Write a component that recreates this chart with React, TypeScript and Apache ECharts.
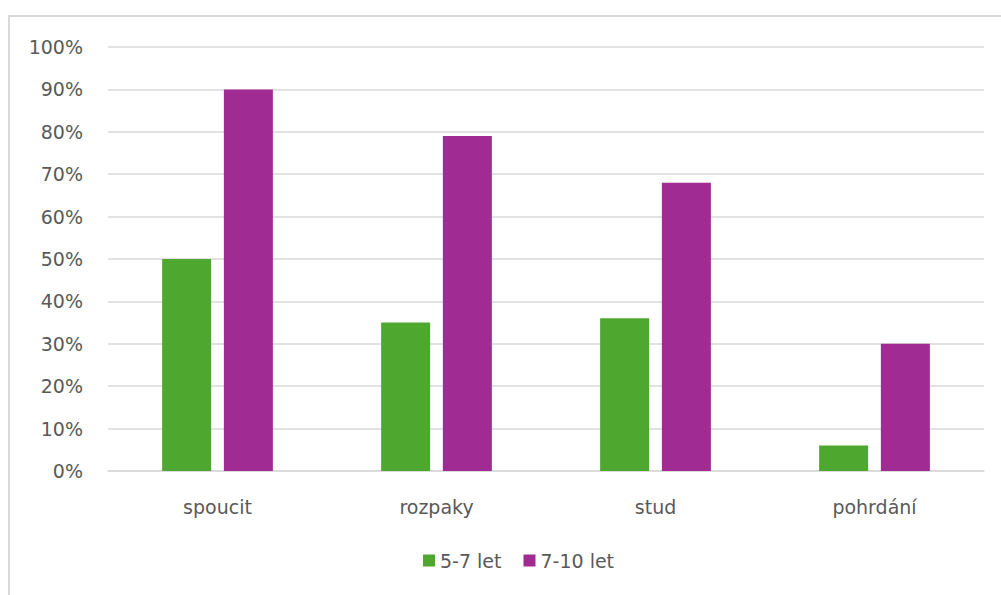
import React, { useEffect, useRef } from "react";
import * as echarts from "echarts";

const categories = ["spoucit", "rozpaky", "stud", "pohrdání"];
const series57 = [50, 35, 36, 6];
const series710 = [90, 79, 68, 30];
const seriesNames = ["5-7 let", "7-10 let"];
const colors = ["#4EA72E", "#A02B93"];

const FONT = "DejaVu Sans";
const TEXT = "#595959";
const GRID = "#d9d9d9";

export default function App() {
  const ref = useRef<HTMLDivElement>(null);
  useEffect(() => {
    if (!ref.current) return;
    const chart = echarts.init(ref.current, undefined, { renderer: "svg" });
    chart.setOption({
      animation: false,
      backgroundColor: "#ffffff",
      graphic: [
        {
          type: "rect",
          shape: { x: 9, y: 16, width: 1200, height: 800 },
          style: { fill: "none", stroke: GRID, lineWidth: 2 },
          silent: true,
        },
      ],
      grid: { left: 108, right: 17, top: 47, bottom: 124 },
      legend: {
        data: seriesNames,
        left: 418,
        top: 546,
        itemWidth: 12,
        itemHeight: 12,
        itemGap: 22,
        icon: "rect",
        textStyle: { fontFamily: FONT, fontSize: 19, color: TEXT },
      },
      xAxis: {
        type: "category",
        data: categories,
        axisLine: { show: true, lineStyle: { color: GRID, width: 1.5 } },
        axisTick: { show: false },
        axisLabel: { fontFamily: FONT, fontSize: 19, color: TEXT, margin: 26 },
      },
      yAxis: {
        type: "value",
        min: 0,
        max: 100,
        interval: 10,
        axisLine: { show: false },
        axisTick: { show: false },
        splitLine: { lineStyle: { color: GRID, width: 1.5 } },
        axisLabel: {
          fontFamily: FONT,
          fontSize: 19,
          color: TEXT,
          margin: 25,
          formatter: (v: number) => v + "%",
        },
      },
      series: [
        {
          name: seriesNames[0],
          type: "bar",
          data: series57,
          barWidth: 49,
          barGap: "26%",
          itemStyle: { color: colors[0] },
        },
        {
          name: seriesNames[1],
          type: "bar",
          data: series710,
          barWidth: 49,
          barGap: "26%",
          itemStyle: { color: colors[1] },
        },
      ],
    });
    return () => chart.dispose();
  }, []);
  return (
    <div
      ref={ref}
      style={{ position: "absolute", left: 0, top: 0, width: 1001, height: 595 }}
    />
  );
}
